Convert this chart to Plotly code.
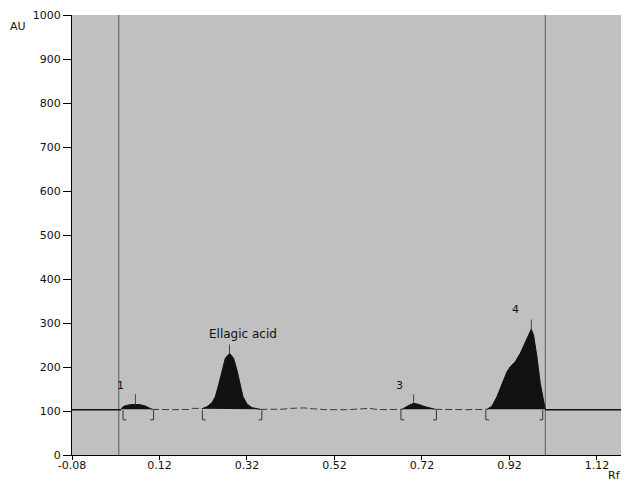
import plotly.graph_objects as go

# ---- data ----
baseline_au = 103

peak1_rf = [0.032, 0.0366, 0.0418, 0.0533, 0.0647, 0.0761, 0.0875, 0.099, 0.1029]
peak1_au = [103.8, 109.8, 112.0, 114.4, 115.0, 114.4, 111.4, 106.0, 103.8]

ellagic_rf = [0.2171, 0.2286, 0.240, 0.2476, 0.2551, 0.2629, 0.2704, 0.2802, 0.2894,
              0.2971, 0.3031, 0.3109, 0.320, 0.3314, 0.3504]
ellagic_au = [105.3, 109.8, 119.0, 132.6, 159.0, 193.0, 219.7, 231.0, 219.7,
              193.0, 163.0, 132.6, 116.0, 107.6, 103.8]

peak3_rf = [0.6743, 0.6818, 0.6917, 0.7008, 0.7122, 0.7276, 0.7429, 0.7504]
peak3_au = [103.8, 108.3, 113.6, 117.4, 115.1, 109.8, 106.8, 103.8]

peak4_rf = [0.8686, 0.880, 0.8914, 0.9029, 0.9143, 0.9219, 0.9333, 0.9447, 0.956,
            0.9637, 0.9699, 0.9751, 0.9829, 0.9904, 0.998, 1.0019]
peak4_au = [103.8, 111.0, 132.6, 163.0, 189.0, 200.8, 212.0, 231.0, 254.0,
            273.0, 286.0, 273.0, 223.0, 163.0, 117.5, 103.8]

# background signal between peaks
bg_rf = [0.1029, 0.12, 0.15, 0.19, 0.195, 0.214, 0.2171, None,
         0.3504, 0.38, 0.40, 0.42, 0.45, 0.47, 0.50, 0.55, 0.58, 0.60, 0.62, 0.6743, None,
         0.7504, 0.78, 0.80, 0.82, 0.8686]
bg_au = [103.8, 103, 103, 103.5, 106, 106, 105.3, None,
         103.8, 103, 104, 106, 107, 105, 103, 103, 105, 106, 103, 103.8, None,
         103.8, 103, 104, 103, 103.8]

outer_left_rf = [-0.08, 0.032]
outer_right_rf = [1.0019, 1.175]

front_lines_rf = [0.027, 1.002]

peak_rf = [0.065, 0.280, 0.701, 0.970]
peak_top = [115, 231, 117, 286]
marker_top = [138, 251, 138, 308]

label_text = ["1", "Ellagic acid", "3", "4"]
label_rf = [0.030, 0.311, 0.669, 0.933]
label_au = [159, 274, 159, 330]

bracket_start = [0.0366, 0.218, 0.672, 0.866]
bracket_end = [0.1065, 0.354, 0.753, 0.996]
bracket_top = 102
bracket_bottom = 80
bracket_stub = 0.0076

x_ticks = [-0.08, 0.12, 0.32, 0.52, 0.72, 0.92, 1.12]
x_tick_labels = ["-0.08", "0.12", "0.32", "0.52", "0.72", "0.92", "1.12"]
y_ticks = list(range(0, 1001, 100))

FONT = "DejaVu Sans, Arial, sans-serif"

fig = go.Figure()

# front lines
for fx in front_lines_rf:
    fig.add_trace(go.Scatter(x=[fx, fx], y=[0, 1000], mode="lines",
                             line=dict(color="#5a5a5a", width=1), hoverinfo="skip"))

# outer baseline (solid)
for xs in (outer_left_rf, outer_right_rf):
    fig.add_trace(go.Scatter(x=xs, y=[baseline_au, baseline_au], mode="lines",
                             line=dict(color="#111111", width=1.6), hoverinfo="skip"))

# background signal (broken look)
fig.add_trace(go.Scatter(x=bg_rf, y=bg_au, mode="lines", connectgaps=False,
                         line=dict(color="#3a3a3a", width=1, dash="7px,3px"), hoverinfo="skip"))

# peaks filled
for xs, ys in ((peak1_rf, peak1_au), (ellagic_rf, ellagic_au),
               (peak3_rf, peak3_au), (peak4_rf, peak4_au)):
    fig.add_trace(go.Scatter(x=xs, y=ys, mode="lines", fill="toself",
                             fillcolor="#111111", line=dict(color="#111111", width=1),
                             hoverinfo="skip"))

# peak markers
mx, my = [], []
for r, t, m in zip(peak_rf, peak_top, marker_top):
    mx += [r, r, None]
    my += [t, m, None]
fig.add_trace(go.Scatter(x=mx, y=my, mode="lines",
                         line=dict(color="#444444", width=1), hoverinfo="skip"))

# integration brackets
bx, by = [], []
for s, e in zip(bracket_start, bracket_end):
    bx += [s + bracket_stub, s, s, None, e, e, e - bracket_stub, None]
    by += [bracket_bottom, bracket_bottom, bracket_top, None,
           bracket_top, bracket_bottom, bracket_bottom, None]
fig.add_trace(go.Scatter(x=bx, y=by, mode="lines",
                         line=dict(color="#333333", width=1), hoverinfo="skip"))

# peak labels
for t, r, a in zip(label_text, label_rf, label_au):
    fig.add_annotation(x=r, y=a, text=t, showarrow=False,
                       font=dict(family=FONT, size=12 if len(t) > 2 else 11,
                                 color="#111111"))

fig.add_annotation(xref="paper", yref="paper", x=-0.098, y=0.973, text="AU",
                   xanchor="center", yanchor="middle", showarrow=False,
                   font=dict(family=FONT, size=11, color="#111111"))
fig.add_annotation(xref="paper", yref="paper", x=0.989, y=-0.0455, text="Rf",
                   xanchor="center", yanchor="middle", showarrow=False,
                   font=dict(family=FONT, size=11, color="#111111"))

fig.update_layout(
    width=628, height=485,
    margin=dict(l=72, r=7, t=15, b=30),
    paper_bgcolor="white",
    plot_bgcolor="#c0c0c0",
    showlegend=False,
    font=dict(family=FONT, size=11, color="#111111"),
    xaxis=dict(range=[-0.08, 1.175], tickvals=x_ticks, ticktext=x_tick_labels,
               showgrid=False, zeroline=False, showline=True, linecolor="black",
               linewidth=1, ticks="outside", ticklen=4, tickcolor="black",
               ticklabelstandoff=-4, automargin=False),
    yaxis=dict(range=[0, 1000], tickvals=y_ticks, showgrid=False, zeroline=False,
               showline=True, linecolor="black", linewidth=1, ticks="outside",
               ticklen=8, tickcolor="black", automargin=False),
)

fig.write_html("out.html", config={"displayModeBar": False},
               post_script="document.body.style.margin='0';document.body.style.overflow='hidden';")
